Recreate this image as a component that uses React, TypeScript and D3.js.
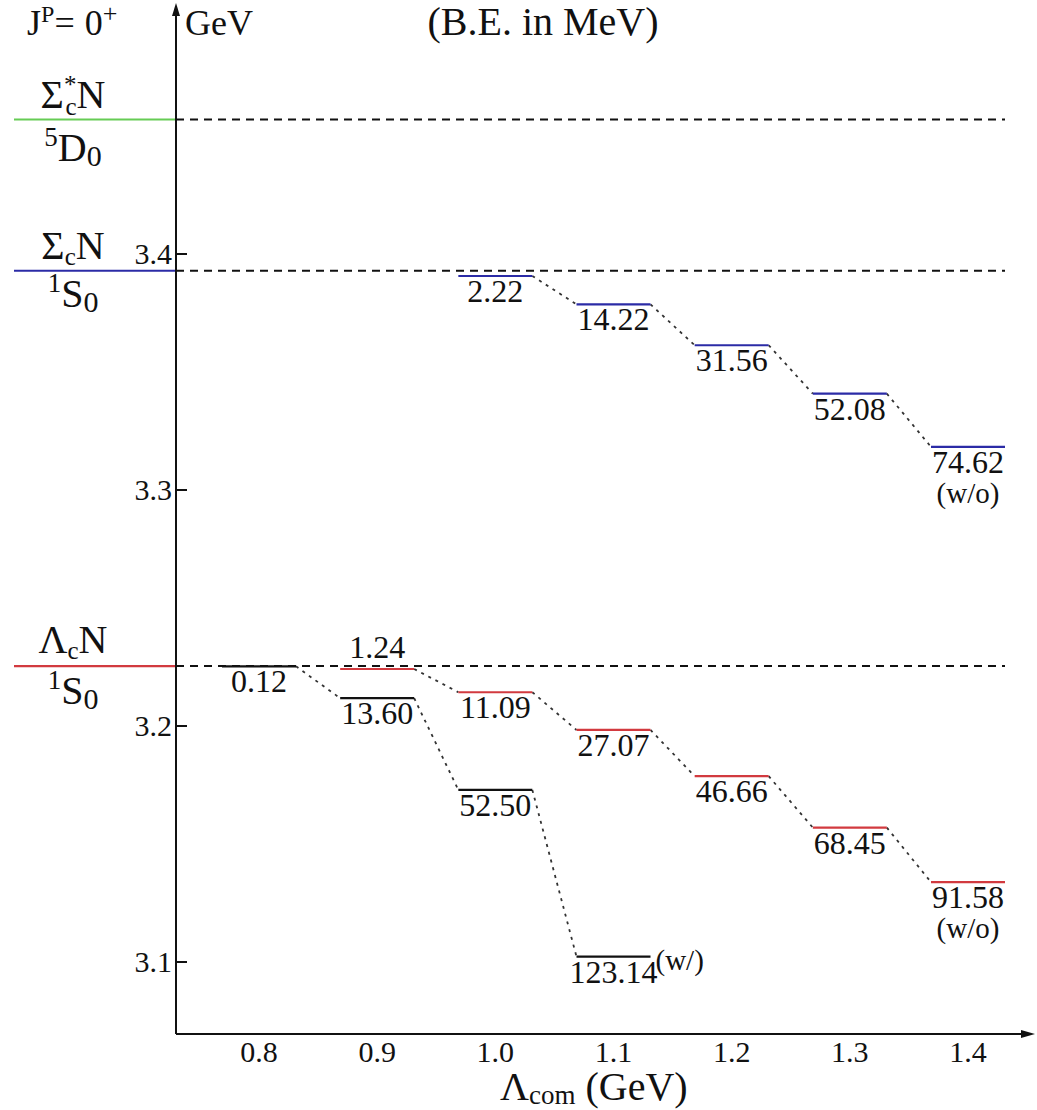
import React from "react";
import * as d3 from "d3";

// ---------- data ----------
const lambdaTicks = [0.8, 0.9, 1.0, 1.1, 1.2, 1.3, 1.4];
const massTicks = [3.1, 3.2, 3.3, 3.4];

// thresholds (GeV)
const thrSigmaStarN = 3.457;
const thrSigmaN = 3.3929;
const thrLambdaN = 3.2254;

// Lambda_c N 1S0 with coupling (w/)
const wLambda = [0.8, 0.9, 1.0, 1.1];
const wBE = [0.12, 13.6, 52.5, 123.14];
const wLabels = ["0.12", "13.60", "52.50", "123.14"];

// Lambda_c N 1S0 without coupling (w/o)
const lcLambda = [0.9, 1.0, 1.1, 1.2, 1.3, 1.4];
const lcBE = [1.24, 11.09, 27.07, 46.66, 68.45, 91.58];
const lcLabels = ["1.24", "11.09", "27.07", "46.66", "68.45", "91.58"];

// Sigma_c N 1S0 without coupling (w/o)
const scLambda = [1.0, 1.1, 1.2, 1.3, 1.4];
const scBE = [2.22, 14.22, 31.56, 52.08, 74.62];
const scLabels = ["2.22", "14.22", "31.56", "52.08", "74.62"];

// ---------- layout ----------
const W = 1037;
const H = 1110;
const axisX = 176;
const axisY = 1034;
const FONT = "Liberation Serif, DejaVu Serif, serif";
const RED = "#d23a3f";
const BLUE = "#2b2ba6";
const GREEN = "#66cc55";
const HALF = 37;

const x = d3.scaleLinear().domain([0.8, 1.4]).range([259, 968]);
const y = d3.scaleLinear().domain([3.1, 3.4]).range([962, 254]);

type Level = { lam: number; m: number; label: string };

function levels(lams: number[], bes: number[], labels: string[], thr: number): Level[] {
  return lams.map((l, i) => ({ lam: l, m: thr - bes[i] / 1000, label: labels[i] }));
}

const wLevels = levels(wLambda, wBE, wLabels, thrLambdaN);
const lcLevels = levels(lcLambda, lcBE, lcLabels, thrLambdaN);
const scLevels = levels(scLambda, scBE, scLabels, thrSigmaN);

const connector = d3
  .line<[number, number]>()
  .x((d) => d[0])
  .y((d) => d[1]);

function chainPaths(lv: Level[]) {
  const out: string[] = [];
  for (let i = 0; i < lv.length - 1; i++) {
    const a = lv[i];
    const b = lv[i + 1];
    out.push(
      connector([
        [x(a.lam) + HALF, y(a.m)],
        [x(b.lam) - HALF, y(b.m)],
      ]) as string
    );
  }
  return out;
}

const tStyle = { fontFamily: FONT };

function LevelGroup({ lv, color, labelAbove }: { lv: Level[]; color: string; labelAbove?: number[] }) {
  return (
    <g>
      {chainPaths(lv).map((d, i) => (
        <path key={"c" + i} d={d} fill="none" stroke="#333" strokeWidth={1.8} strokeDasharray="3,5" />
      ))}
      {lv.map((l, i) => (
        <g key={i}>
          <line x1={x(l.lam) - HALF} x2={x(l.lam) + HALF} y1={y(l.m)} y2={y(l.m)} stroke={color} strokeWidth={2.2} />
          <text
            x={x(l.lam)}
            y={labelAbove && labelAbove.includes(i) ? y(l.m) - 11 : y(l.m) + 26}
            textAnchor="middle"
            fontSize={32}
            style={tStyle}
          >
            {l.label}
          </text>
        </g>
      ))}
    </g>
  );
}

function StateLabel({ cx, by, sup, main, sub }: { cx: number; by: number; sup: string; main: string; sub: string }) {
  return (
    <text x={cx} y={by} fontSize={40} textAnchor="middle" style={tStyle}>
      <tspan fontSize={27} dy={-15}>{sup}</tspan>
      <tspan dy={15}>{main}</tspan>
      <tspan fontSize={30} dy={5}>{sub}</tspan>
    </text>
  );
}

export default function App() {
  const thresholds = [thrSigmaStarN, thrSigmaN, thrLambdaN];
  const thrColors = [GREEN, BLUE, RED];
  const lastW = wLevels[wLevels.length - 1];
  const lastLc = lcLevels[lcLevels.length - 1];
  const lastSc = scLevels[scLevels.length - 1];
  return (
    <svg
      width={W}
      height={H}
      style={{ position: "absolute", left: 0, top: 0, background: "#fff", fontFamily: FONT }}
      fill="#111"
    >
      <rect x={0} y={0} width={W} height={H} fill="#fff" />

      {/* threshold lines */}
      {thresholds.map((t, i) => (
        <g key={i}>
          <line x1={14} x2={axisX} y1={y(t)} y2={y(t)} stroke={thrColors[i]} strokeWidth={2.2} />
          <line x1={axisX} x2={1005} y1={y(t)} y2={y(t)} stroke="#111" strokeWidth={2} strokeDasharray="8,6" />
        </g>
      ))}

      {/* axes */}
      <line x1={axisX} x2={axisX} y1={axisY} y2={12} stroke="#111" strokeWidth={2} />
      <path d={`M${axisX},3 L${axisX - 4},16 L${axisX + 4},16 Z`} fill="#111" />
      <line x1={axisX} x2={1024} y1={axisY} y2={axisY} stroke="#111" strokeWidth={2} />
      <path d={`M1035,${axisY} L1021,${axisY - 4} L1021,${axisY + 4} Z`} fill="#111" />

      {massTicks.map((t) => (
        <g key={t}>
          <line x1={axisX} x2={axisX + 11} y1={y(t)} y2={y(t)} stroke="#111" strokeWidth={2} />
          <text x={axisX - 4} y={y(t) + 10} textAnchor="end" fontSize={30} style={tStyle}>
            {d3.format(".1f")(t)}
          </text>
        </g>
      ))}

      {lambdaTicks.map((t) => (
        <text key={t} x={x(t)} y={1062} textAnchor="middle" fontSize={30} style={tStyle}>
          {d3.format(".1f")(t)}
        </text>
      ))}

      <text x={500} y={1100} fontSize={40} style={tStyle}>
        Λ<tspan fontSize={27} dy={4}>com</tspan>
        <tspan dy={-4}> (GeV)</tspan>
      </text>

      {/* header */}
      <text x={27} y={35} fontSize={36} style={tStyle}>
        J<tspan fontSize={24} dy={-13}>P</tspan>
        <tspan dy={13}>=</tspan>
        <tspan dx={10}>0</tspan>
        <tspan fontSize={26} dy={-13}>+</tspan>
      </text>
      <text x={185} y={35} fontSize={36} style={tStyle}>GeV</text>
      <text x={543} y={35} fontSize={40} textAnchor="middle" style={tStyle}>
        (B.E. in MeV)
      </text>

      {/* left labels */}
      <text x={73} y={108} fontSize={40} textAnchor="middle" style={tStyle}>
        Σ<tspan fontSize={25} dy={-15}>*</tspan>
        <tspan fontSize={25} dx={-11} dy={22}>c</tspan>
        <tspan dy={-7}>N</tspan>
      </text>
      <StateLabel cx={73} by={161} sup="5" main="D" sub="0" />

      <text x={73} y={259} fontSize={40} textAnchor="middle" style={tStyle}>
        Σ<tspan fontSize={25} dy={6}>c</tspan>
        <tspan dy={-6}>N</tspan>
      </text>
      <StateLabel cx={73} by={307} sup="1" main="S" sub="0" />

      <text x={73} y={653} fontSize={40} textAnchor="middle" style={tStyle}>
        Λ<tspan fontSize={25} dy={6}>c</tspan>
        <tspan dy={-6}>N</tspan>
      </text>
      <StateLabel cx={73} by={704} sup="1" main="S" sub="0" />

      {/* levels */}
      <LevelGroup lv={scLevels} color={BLUE} />
      <LevelGroup lv={lcLevels} color={RED} labelAbove={[0]} />
      <LevelGroup lv={wLevels} color="#111" />

      <text x={x(lastSc.lam)} y={y(lastSc.m) + 56} textAnchor="middle" fontSize={29} style={tStyle}>
        (w/o)
      </text>
      <text x={x(lastLc.lam)} y={y(lastLc.m) + 56} textAnchor="middle" fontSize={29} style={tStyle}>
        (w/o)
      </text>
      <text x={x(lastW.lam) + HALF + 5} y={y(lastW.m) + 13} fontSize={29} style={tStyle}>
        (w/)
      </text>
    </svg>
  );
}
